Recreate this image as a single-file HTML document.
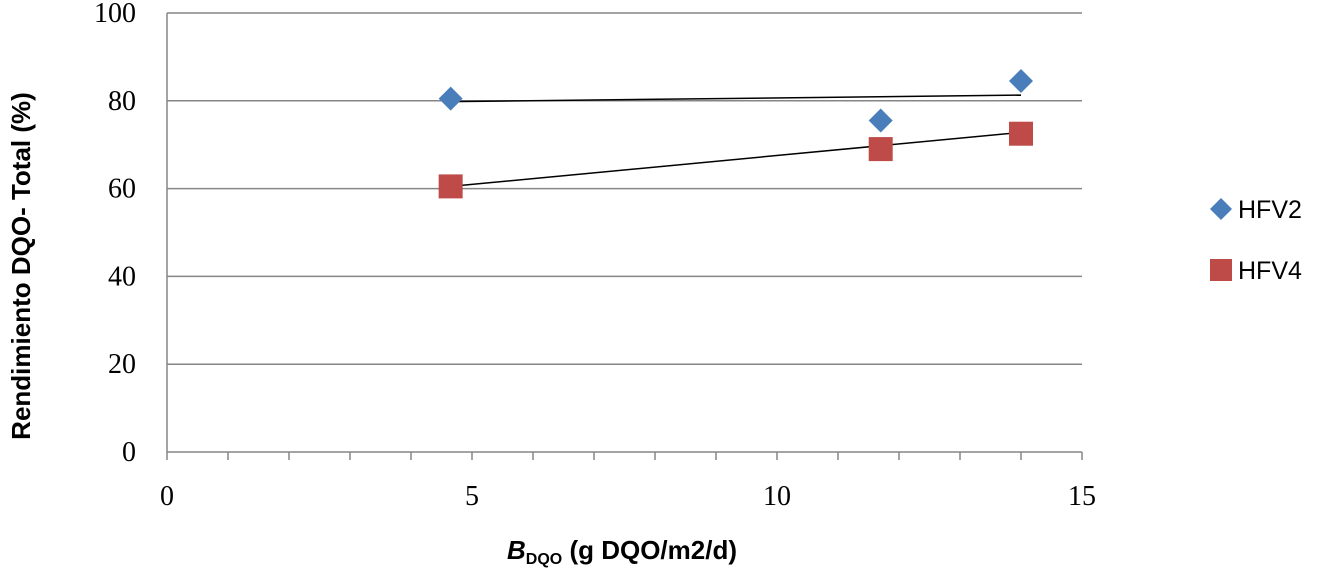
<!DOCTYPE html>
<html><head><meta charset="utf-8"><style>
body{margin:0;background:#fff;}
svg{display:block;}
.tk{font-family:"Liberation Serif",serif;font-size:28px;fill:#000;}
</style></head><body>
<svg id="c" width="1317" height="568" xmlns="http://www.w3.org/2000/svg"></svg>
<script>
const xTicks=[0,5,10,15];
const yTicks=[0,20,40,60,80,100];
const hfv2X=[4.65,11.7,14];
const hfv2Y=[80.5,75.5,84.5];
const hfv4X=[4.65,11.7,14];
const hfv4Y=[60.5,69,72.5];
const trend2=[[4.65,79.8],[14,81.3]];
const trend4=[[4.65,60.5],[14,72.8]];
const svg=document.getElementById('c');
const NS='http://www.w3.org/2000/svg';
const X=v=>167+v*(1082-167)/15;
const Y=v=>452-v*(452-13)/100;
function mk(t,a,p){const e=document.createElementNS(NS,t);for(const k in a)e.setAttribute(k,a[k]);(p||svg).appendChild(e);return e;}
yTicks.forEach(v=>{
 const l=mk('line',{x1:167,x2:1082,y1:Y(v),y2:Y(v),stroke:'#868686','stroke-width':1.5});
 
 
 const t=mk('text',{x:136,y:Y(v)+9,'text-anchor':'end',class:'tk'});t.textContent=v;
 
 
});
const ya=mk('line',{x1:167,x2:167,y1:13,y2:452,stroke:'#868686','stroke-width':1.5});


for(let i=0;i<=15;i++){mk('line',{x1:X(i),x2:X(i),y1:452,y2:460,stroke:'#868686','stroke-width':1.5});}
xTicks.forEach(v=>{
 const t=mk('text',{x:X(v),y:505,'text-anchor':'middle',class:'tk'});t.textContent=v;
 
 
});
[trend2,trend4].forEach((tr,i)=>{
 const l=mk('line',{x1:X(tr[0][0]),y1:Y(tr[0][1]),x2:X(tr[1][0]),y2:Y(tr[1][1]),stroke:'#000','stroke-width':1.5});
 
 
});
hfv2X.forEach((x,i)=>{
 const cx=X(x),cy=Y(hfv2Y[i]);
 const p=mk('polygon',{points:`${cx},${cy-12} ${cx+12},${cy} ${cx},${cy+12} ${cx-12},${cy}`,fill:'#4a7ebb'});
 
 
});
hfv4X.forEach((x,i)=>{
 const cx=X(x),cy=Y(hfv4Y[i]);
 const p=mk('rect',{x:cx-12,y:cy-12,width:24,height:24,fill:'#be4b48'});
 
 
});
</script>
<svg style="position:absolute;left:0;top:0" width="1317" height="568" xmlns="http://www.w3.org/2000/svg">
<g font-family="Liberation Sans, sans-serif" font-size="25">
<polygon points="1221,198 1232,209 1221,220 1210,209" fill="#4a7ebb"/>
<text x="1238" y="218">HFV2</text>
<rect x="1210" y="259" width="22" height="22" fill="#be4b48"/>
<text x="1238" y="279">HFV4</text>
</g>
<text transform="translate(30,266) rotate(-90)" text-anchor="middle" font-family="Liberation Sans, sans-serif" font-weight="bold" font-size="26">Rendimiento DQO- Total (%)</text>
<text x="622" y="559" text-anchor="middle" font-family="Liberation Sans, sans-serif" font-weight="bold" font-size="26"><tspan font-style="italic">B</tspan><tspan font-size="16" dy="5">DQO</tspan><tspan dy="-5"> (g DQO/m2/d)</tspan></text>
</svg>
</body></html>
